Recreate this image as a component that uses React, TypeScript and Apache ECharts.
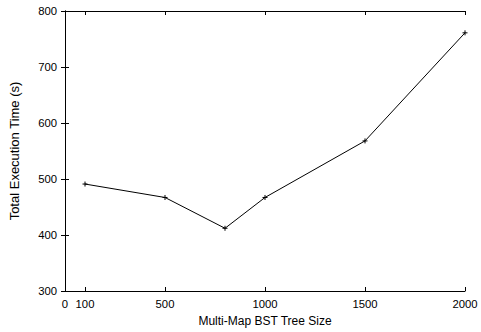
import React, { useEffect, useRef } from "react";
import * as echarts from "echarts";

const xValues = [100, 500, 800, 1000, 1500, 2000];
const yValues = [491, 467, 412, 467, 568, 761];
const xTicks = [0, 100, 500, 1000, 1500, 2000];
const yTicks = [300, 400, 500, 600, 700, 800];

export default function App() {
  const ref = useRef<HTMLDivElement>(null);
  useEffect(() => {
    const chart = echarts.init(ref.current!, null, { renderer: "svg" });
    const font = { fontFamily: "Liberation Sans", fontSize: 11.3, color: "#000" };
    const xAxisBase = {
      type: "value",
      min: 0,
      max: 2000,
      axisLine: { show: true, lineStyle: { color: "#000", width: 1 } },
      axisTick: { show: true, inside: true, length: 4, customValues: xTicks, lineStyle: { color: "#000" } },
      splitLine: { show: false },
    };
    const yAxisBase = {
      type: "value",
      min: 300,
      max: 800,
      interval: 100,
      axisLine: { show: true, lineStyle: { color: "#000", width: 1 } },
      axisTick: { show: true, inside: true, length: 4, lineStyle: { color: "#000" } },
      splitLine: { show: false },
    };
    chart.setOption({
      animation: false,
      grid: { left: 65, right: 16, top: 11, bottom: 38, containLabel: false },
      xAxis: [
        {
          ...xAxisBase,
          position: "bottom",
          axisLabel: { ...font, customValues: xTicks, margin: 7, formatter: (v: number) => String(v) },
          name: "Multi-Map BST Tree Size",
          nameLocation: "middle",
          nameGap: 24,
          nameTextStyle: { ...font, fontSize: 12 },
        },
        { ...xAxisBase, position: "top", axisLabel: { show: false } },
      ],
      yAxis: [
        {
          ...yAxisBase,
          position: "left",
          axisLabel: { ...font, margin: 8, customValues: yTicks, formatter: (v: number) => String(v) },
          name: "Total Execution Time (s)",
          nameLocation: "middle",
          nameGap: 44,
          nameRotate: 90,
          nameTextStyle: { ...font, fontSize: 13 },
        },
        { ...yAxisBase, position: "right", axisLabel: { show: false } },
      ],
      series: [
        {
          type: "line",
          data: xValues.map((x, i) => [x, yValues[i]]),
          symbol: "path://M-1,0L1,0M0,-1L0,1",
          symbolSize: 5,
          itemStyle: { color: "#000", borderColor: "#000", borderWidth: 1 },
          lineStyle: { color: "#000", width: 1 },
        },
      ],
    });
    return () => chart.dispose();
  }, []);
  return (
    <div
      ref={ref}
      style={{ position: "absolute", left: 0, top: 0, width: 481, height: 332, background: "#fff" }}
    />
  );
}
